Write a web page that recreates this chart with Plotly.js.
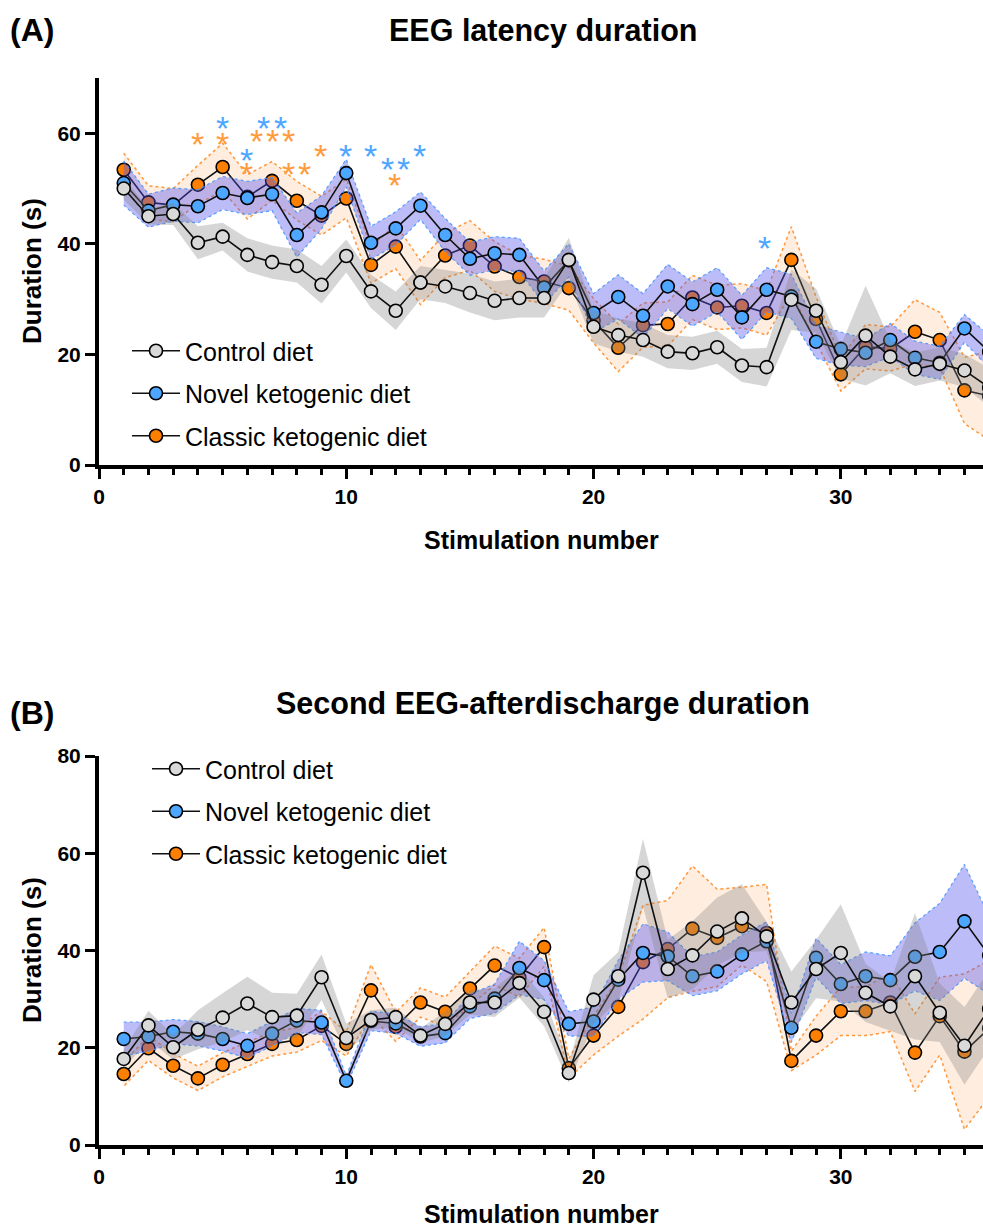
<!DOCTYPE html>
<html><head><meta charset="utf-8">
<script src="https://cdn.plot.ly/plotly-3.0.1.min.js"></script>
<style>html,body{margin:0;padding:0;background:#fff}</style>
</head><body><div id="chart" style="width:983px;height:1227px"></div>
<script>
// ---------- DATA ----------
const stim = [1,2,3,4,5,6,7,8,9,10,11,12,13,14,15,16,17,18,19,20,21,22,23,24,25,26,27,28,29,30,31,32,33,34,35,36];
const seriesNames = ["Control diet", "Novel ketogenic diet", "Classic ketogenic diet"];

// Panel A: EEG latency duration (s)
const controlA = [50,45,45.4,40.2,41.3,38.0,36.7,36.0,32.6,37.8,31.4,27.9,33.0,32.3,31.1,29.7,30.2,30.2,37.1,25.0,23.5,22.6,20.5,20.2,21.3,18.0,17.7,29.9,27.9,18.6,23.4,19.6,17.3,18.3,17.1,14];
const controlA_sem = [2,1.5,2,3,2.5,3,3,3,3.4,3,3,3.5,3,3,3.5,3.5,3.5,3.5,4,3,3,3,3,3,3,3,3.5,5.5,4,3,9,3,3,3,3,3.5];
const novelA = [51.0,46,47.1,46.8,49.2,48.3,49.0,41.6,45.7,52.8,40.2,42.8,46.9,41.6,37.3,38.3,38.0,32.1,37,27.5,30.4,27.0,32.3,29.1,31.7,26.7,31.7,30.5,22.3,21.0,20.3,22.6,19.4,18.5,24.7,20.5];
const novelA_sem = [4,3,3,3,3,3,3,4,3,2.5,3,3,2.5,3,3,3,3,3,3,3.5,4,4,4,4,4,4,4,4,3,3,2.5,3,3,3,2.5,3];
const classicA = [53.4,47.5,47,50.7,53.9,48.5,51.4,47.8,45.1,48.2,36.2,39.5,33,37.9,39.7,35.9,34.0,33.2,32.0,26.1,21.2,25.3,25.5,30.3,28.5,28.8,27.5,37.1,26.4,16.4,21.4,21.0,24.1,22.6,13.5,12.5];
const classicA_sem = [3,3,3,3.5,4.3,4,3.5,3.5,3.5,3.5,3.3,4,4,4,4.5,4.5,4,4,4,4,4.3,4,4,4,4,4,4,6,4,3,4,4,5.8,5,6,8];

// Panel B: Second EEG-afterdischarge duration (s)
const controlB = [17.7,24.6,20.1,23.7,26.2,29.1,26.3,26.6,34.5,22.0,25.7,26.3,22.5,24.9,29.3,29.3,33.3,27.4,14.8,29.9,34.7,56.0,36.2,39.0,43.9,46.6,42.9,29.3,36.2,39.5,31.3,28.5,34.7,27.2,20.4,28];
const controlB_sem = [2,3,2.5,4,5,5.5,5,4.5,4.7,3,2,2,1.5,2.5,2.5,3,3,3,2,5,5,7,6,7,7,7,3,6.4,6,10,6,5,13,6,8,8];
const novelB = [21.8,22.3,23.3,22.9,21.8,20.4,22.9,25.6,25.2,13.2,25.5,25,22.3,23.0,28.5,30.1,36.4,33.9,24.9,25.4,34.0,39.5,38.8,34.7,35.7,39.2,41.9,24.1,38.5,33.1,34.7,33.9,38.7,39.7,46.0,39];
const novelB_sem = [3.5,3,2.5,2.5,2.5,2.5,2.5,2.5,2.5,1,2,2,2,2,2.5,3,5.5,4,2.5,3,4,6,5,4,4,4,4,3,4,4,5,5,7,10,11.7,8];
const classicB = [14.6,19.9,16.3,13.7,16.5,18.7,20.8,21.6,24.5,20.8,31.8,24.3,29.3,27.4,32.2,36.9,34.4,40.7,15.8,22.5,28.4,37.6,40.3,44.5,42.6,45,43.6,17.3,22.5,27.5,27.5,29.3,19.0,26.5,19.2,24];
const classicB_sem = [2.5,2.5,2.5,2.5,2.5,2.5,2.5,2.5,3,2.5,5.3,3,3,3,3.5,4,4,4,2,4,6,11.7,10,12.9,10,8,10,2,4,5,5,6,8,8,16,14];

// Significance stars (panel A)
const blueStarX = [4.99,6.67,7.36,5.97,9.97,10.98,11.66,12.31,12.98,26.93];
const blueStarY = [62.4,62.4,62.4,56.7,57.4,57.4,54.9,54.9,57.4,40.7];
const orangeStarX = [3.97,4.99,6.38,7.02,7.68,5.97,7.68,8.33,8.96,11.97];
const orangeStarY = [59.5,59.5,60.0,60.0,60.0,54.1,54.1,54.1,57.4,52.1];

// ---------- STYLE ----------
const FONT = 'Arial, "Liberation Sans", sans-serif';
const markerFill = ['#d9d9d9', '#4da6ff', '#ff8000'];
const bandFill = ['rgba(128,128,128,0.32)', 'rgba(80,80,240,0.38)', 'rgba(255,170,100,0.2)'];
const bandLine = [
  {width:0, color:'rgba(0,0,0,0)'},
  {width:1.2, color:'rgba(70,150,255,0.9)', dash:'dot'},
  {width:1.5, color:'rgba(255,140,40,0.9)', dash:'dot'}
];

function band(mean, sem, idx, xa, ya) {
  const up = mean.map((v,i)=>v+sem[i]);
  const lo = mean.map((v,i)=>v-sem[i]);
  return {
    type:'scatter', mode:'lines', x: stim.concat(stim.slice().reverse()),
    y: up.concat(lo.slice().reverse()), fill:'toself', fillcolor: bandFill[idx],
    line: Object.assign({shape:'linear'}, bandLine[idx]), showlegend:false, hoverinfo:'skip',
    xaxis: xa, yaxis: ya
  };
}
function series(mean, idx, xa, ya, legend) {
  return {
    type:'scatter', mode:'lines+markers', x: stim, y: mean, name: seriesNames[idx],
    line:{color:'#111', width:1.6},
    marker:{size:13, color: markerFill[idx], line:{color:'#000', width:1.6}},
    xaxis: xa, yaxis: ya, legend: legend, legendgroup: legend + idx, legendrank: idx+1,
    showlegend: true
  };
}

const traces = [];
// Panel A (drawing order: classic, novel, control)
traces.push(band(classicA, classicA_sem, 2, 'x', 'y'));
traces.push(series(classicA, 2, 'x', 'y', 'legend'));
traces.push(band(novelA, novelA_sem, 1, 'x', 'y'));
traces.push(series(novelA, 1, 'x', 'y', 'legend'));
traces.push(band(controlA, controlA_sem, 0, 'x', 'y'));
traces.push(series(controlA, 0, 'x', 'y', 'legend'));
// Panel B
traces.push(band(classicB, classicB_sem, 2, 'x2', 'y2'));
traces.push(series(classicB, 2, 'x2', 'y2', 'legend2'));
traces.push(band(novelB, novelB_sem, 1, 'x2', 'y2'));
traces.push(series(novelB, 1, 'x2', 'y2', 'legend2'));
traces.push(band(controlB, controlB_sem, 0, 'x2', 'y2'));
traces.push(series(controlB, 0, 'x2', 'y2', 'legend2'));

const W = 983, H = 1227, L = 99;
const px2x = p => (p - L) / (W - L);
const py2y = p => 1 - p / H;

function xax(anchor) {
  return {
    domain:[0,1], range:[0,35.75], anchor: anchor, showline:true, linewidth:4, linecolor:'#000',
    ticks:'outside', ticklen:10, tickwidth:3, tickcolor:'#000', tick0:0, dtick:10,
    minor:{dtick:1, ticks:'outside', ticklen:6, tickwidth:3, tickcolor:'#000', showgrid:false},
    showgrid:false, zeroline:false, fixedrange:true,
    tickfont:{family:FONT, size:21, weight:'bold', color:'#000'}
  };
}
function yax(anchor, domain, range) {
  return {
    domain: domain, range: range, anchor: anchor, showline:true, linewidth:4, linecolor:'#000',
    ticks:'outside', ticklen:10, tickwidth:3, tickcolor:'#000', tick0:0, dtick:20,
    showgrid:false, zeroline:false, fixedrange:true,
    tickfont:{family:FONT, size:21, weight:'bold', color:'#000'}
  };
}

const starSize = 34;
const annotations = [];
function txt(text, px, py, size, bold, xanchor, angle) {
  annotations.push({xref:'paper', yref:'paper', x: px2x(px), y: py2y(py), text: text, showarrow:false,
    xanchor: xanchor || 'center', yanchor:'middle', textangle: angle || 0,
    font:{family:FONT, size:size, weight: bold ? 'bold' : 'normal', color:'#000'}});
}
txt('(A)', 8, 30, 32, true, 'left');
txt('EEG latency duration', 543, 30, 30.5, true);
txt('Duration (s)', 32, 271, 26, true, 'center', -90);
txt('Stimulation number', 541, 540, 25, true);
txt('(B)', 8, 713, 32, true, 'left');
txt('Second EEG-afterdischarge duration', 543, 703, 30.5, true);
txt('Duration (s)', 32, 950, 26, true, 'center', -90);
txt('Stimulation number', 541, 1214, 25, true);

blueStarX.forEach((x,i)=>annotations.push({xref:'x', yref:'y', x:x, y:blueStarY[i], text:'*', showarrow:false,
  yanchor:'middle', xanchor:'center', yshift:-8, font:{family:FONT, size:starSize, color:'#4da6ff'}}));
orangeStarX.forEach((x,i)=>annotations.push({xref:'x', yref:'y', x:x, y:orangeStarY[i], text:'*', showarrow:false,
  yanchor:'middle', xanchor:'center', yshift:-8, font:{family:FONT, size:starSize, color:'#ff9b3d'}}));

const legendBase = {
  xanchor:'left', yanchor:'top', bgcolor:'rgba(0,0,0,0)', borderwidth:0,
  font:{family:FONT, size:25, color:'#000'}, traceorder:'grouped', tracegroupgap:7, itemwidth:48
};

const layout = {
  width:W, height:H, margin:{l:L, r:0, t:0, b:0, autoexpand:false},
  paper_bgcolor:'#fff', plot_bgcolor:'rgba(0,0,0,0)', showlegend:true,
  xaxis: xax('y'), yaxis: yax('x', [py2y(465), py2y(78)], [0,70]),
  xaxis2: xax('y2'), yaxis2: yax('x2', [py2y(1145), py2y(756)], [0,80]),
  legend: Object.assign({x: px2x(127), y: py2y(328)}, legendBase),
  legend2: Object.assign({x: px2x(147), y: py2y(746)}, legendBase),
  annotations: annotations, hovermode:false
};

Plotly.newPlot('chart', traces, layout, {staticPlot:true, displayModeBar:false});
</script></body></html>
